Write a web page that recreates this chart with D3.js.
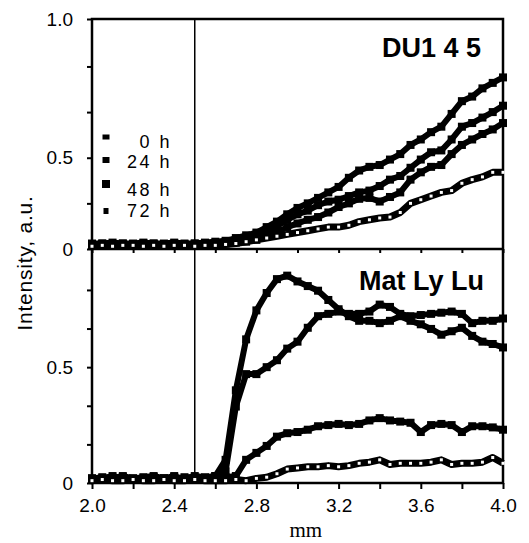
<!DOCTYPE html>
<html>
<head>
<meta charset="utf-8">
<script src="https://cdn.jsdelivr.net/npm/d3@7"></script>
<style>
  body { margin: 0; background: #fff; }
  text { font-family: "Liberation Sans", Arial, sans-serif; fill: #000; }
</style>
</head>
<body>
<div id="graphic"></div>
<script>
// distance along the sample, mm
const mm = [2.00, 2.05, 2.10, 2.15, 2.20, 2.25, 2.30, 2.35, 2.40, 2.45,
            2.50, 2.55, 2.60, 2.65, 2.70, 2.75, 2.80, 2.85, 2.90, 2.95,
            3.00, 3.05, 3.10, 3.15, 3.20, 3.25, 3.30, 3.35, 3.40, 3.45,
            3.50, 3.55, 3.60, 3.65, 3.70, 3.75, 3.80, 3.85, 3.90, 3.95, 4.00];

const timeLabels = ["0 h", "24 h", "48 h", "72 h"];

// DU145 panel (top)
const du145_0h  = [0.02,0.025,0.02,0.02,0.025,0.02,0.025,0.02,0.02,0.025,0.02,0.025,0.025,0.03,0.035,0.04,0.05,0.07,0.09,0.12,0.14,0.16,0.175,0.20,0.23,0.25,0.275,0.28,0.26,0.285,0.31,0.38,0.42,0.45,0.46,0.52,0.57,0.60,0.63,0.655,0.69];
const du145_24h = [0.025,0.03,0.025,0.03,0.025,0.03,0.03,0.025,0.03,0.025,0.03,0.03,0.03,0.035,0.04,0.05,0.07,0.09,0.125,0.16,0.19,0.21,0.24,0.26,0.27,0.29,0.31,0.32,0.345,0.38,0.40,0.445,0.49,0.53,0.54,0.60,0.67,0.69,0.72,0.75,0.785];
const du145_48h = [0.03,0.03,0.035,0.03,0.03,0.035,0.03,0.03,0.035,0.03,0.03,0.035,0.04,0.045,0.06,0.075,0.09,0.12,0.15,0.19,0.225,0.25,0.28,0.31,0.34,0.39,0.43,0.45,0.46,0.49,0.52,0.57,0.60,0.64,0.67,0.74,0.81,0.835,0.88,0.91,0.94];
const du145_72h = [0.015,0.02,0.015,0.02,0.02,0.015,0.02,0.015,0.02,0.02,0.015,0.02,0.02,0.025,0.03,0.04,0.05,0.06,0.07,0.08,0.09,0.10,0.11,0.12,0.12,0.13,0.15,0.16,0.17,0.175,0.20,0.25,0.27,0.29,0.31,0.32,0.36,0.38,0.395,0.42,0.42];

// Mat Ly Lu panel (bottom)
const mat_0h  = [0.02,0.015,0.02,0.025,0.02,0.015,0.02,0.02,0.015,0.025,0.02,0.02,0.02,0.025,0.03,0.10,0.13,0.16,0.20,0.215,0.22,0.23,0.245,0.25,0.255,0.25,0.255,0.27,0.28,0.27,0.265,0.26,0.22,0.25,0.255,0.25,0.22,0.245,0.245,0.24,0.23];
const mat_24h = [0.015,0.02,0.03,0.02,0.015,0.02,0.025,0.02,0.03,0.015,0.02,0.02,0.03,0.05,0.33,0.47,0.47,0.50,0.53,0.58,0.61,0.67,0.72,0.73,0.74,0.73,0.73,0.74,0.77,0.76,0.73,0.72,0.725,0.73,0.735,0.74,0.73,0.69,0.70,0.70,0.71];
const mat_48h = [0.02,0.025,0.02,0.03,0.02,0.025,0.03,0.02,0.025,0.02,0.03,0.025,0.03,0.10,0.40,0.62,0.745,0.82,0.88,0.895,0.87,0.85,0.83,0.79,0.75,0.72,0.70,0.70,0.69,0.70,0.72,0.70,0.685,0.665,0.64,0.655,0.67,0.635,0.61,0.60,0.585];
const mat_72h = [0.01,0.015,0.01,0.01,0.015,0.01,0.01,0.015,0.01,0.01,0.015,0.01,0.01,0.01,0.015,0.01,0.02,0.025,0.04,0.06,0.065,0.07,0.07,0.075,0.07,0.075,0.085,0.09,0.10,0.08,0.085,0.085,0.085,0.09,0.10,0.08,0.085,0.085,0.09,0.11,0.085];

const width = 529, height = 543;
const plotLeft = 92, plotRight = 503, plotTop = 19, plotMid = 249, plotBottom = 483;

const svg = d3.select("#graphic")
              .append("svg")
              .attr("width", width)
              .attr("height", height);

const x = d3.scaleLinear().domain([2, 4]).range([plotLeft, plotRight]);
// the top panel is labelled 1.0 at its upper edge, although its ticks run on 0.25 steps
const yTop = d3.scaleLinear().domain([0, 1.26]).range([plotMid, plotTop]);
const yBot = d3.scaleLinear().domain([0, 1.01]).range([plotBottom, plotMid]);

// left axes
svg.append("g")
   .attr("transform", "translate(" + plotLeft + ",0)")
   .call(d3.axisLeft(yTop)
           .tickValues([0, 0.25, 0.5, 0.75, 1.0, 1.26])
           .tickSize(5)
           .tickPadding(14)
           .tickFormat(d => d === 0 ? "0" : d === 0.5 ? "0.5" : d === 1.26 ? "1.0" : ""));

svg.append("g")
   .attr("transform", "translate(" + plotLeft + ",0)")
   .call(d3.axisLeft(yBot)
           .tickValues([0, 1/6, 2/6, 0.5, 4/6, 5/6])
           .tickSize(5)
           .tickPadding(14)
           .tickFormat(d => d === 0 ? "0" : d === 0.5 ? "0.5" : ""));

// bottom axis
const xTicks = [2.0, 2.2, 2.4, 2.6, 2.8, 3.0, 3.2, 3.4, 3.6, 3.8, 4.0];
svg.append("g")
   .attr("transform", "translate(0," + plotBottom + ")")
   .call(d3.axisBottom(x)
           .tickValues(xTicks)
           .tickSize(6)
           .tickPadding(10)
           .tickFormat(d => Math.round(d * 10) % 4 === 0 ? d3.format(".1f")(d) : ""));

// small ticks under the divider
svg.append("g")
   .attr("transform", "translate(0," + plotMid + ")")
   .call(d3.axisBottom(x).tickValues(xTicks).tickSize(4).tickFormat(""));

svg.selectAll(".domain").remove();
svg.selectAll(".tick line").attr("stroke", "#000").attr("stroke-width", 2);
svg.selectAll(".tick text").style("font-size", "19px").attr("fill", "#000");

// frame, divider and the 2.5 mm line
svg.append("rect")
   .attr("x", plotLeft).attr("y", plotTop)
   .attr("width", plotRight - plotLeft).attr("height", plotBottom - plotTop)
   .attr("fill", "none").attr("stroke", "#000").attr("stroke-width", 2.5);
svg.append("line")
   .attr("x1", plotLeft).attr("x2", plotRight)
   .attr("y1", plotMid).attr("y2", plotMid)
   .attr("stroke", "#000").attr("stroke-width", 2.5);
svg.append("line")
   .attr("x1", x(2.5)).attr("x2", x(2.5))
   .attr("y1", plotTop).attr("y2", plotBottom)
   .attr("stroke", "#000").attr("stroke-width", 1.5);

// draw one series: thick line with square markers
function drawSeries(values, yScale, open) {
    const pts = values.map((v, i) => ({x: mm[i], y: v}));
    svg.append("path")
       .datum(pts)
       .attr("fill", "none")
       .attr("stroke", "#000")
       .attr("stroke-width", open ? 7 : 6)
       .attr("stroke-linejoin", "round")
       .attr("d", d3.line()
                    .x(d => x(d.x))
                    .y(d => yScale(d.y)));
    const s = open ? 3 : 8;
    svg.append("g")
       .selectAll("rect")
       .data(pts)
       .join("rect")
       .attr("x", d => x(d.x) - s / 2)
       .attr("y", d => yScale(d.y) - s / 2)
       .attr("width", s)
       .attr("height", s)
       .attr("fill", open ? "#fff" : "#000");
}

drawSeries(du145_0h, yTop, false);
drawSeries(du145_24h, yTop, false);
drawSeries(du145_48h, yTop, false);
drawSeries(du145_72h, yTop, true);

drawSeries(mat_0h, yBot, false);
drawSeries(mat_24h, yBot, false);
drawSeries(mat_48h, yBot, false);
drawSeries(mat_72h, yBot, true);

// legend
const legendY = [148, 168, 196, 217];
const legendMarkY = [137, 160, 184, 211];
const legendMarkSize = [[7, 5], [7, 6], [8, 8], [5, 6]];
timeLabels.forEach((t, i) => {
    svg.append("rect")
       .attr("x", 106 - legendMarkSize[i][0] / 2)
       .attr("y", legendMarkY[i] - legendMarkSize[i][1] / 2)
       .attr("width", legendMarkSize[i][0])
       .attr("height", legendMarkSize[i][1])
       .attr("fill", "#000");
    svg.append("text")
       .attr("x", 172)
       .attr("y", legendY[i])
       .attr("text-anchor", "end")
       .style("font-size", "18px")
       .style("letter-spacing", "2.5px")
       .text(t);
});

// panel titles
svg.append("text")
   .attr("x", 481).attr("y", 57)
   .attr("text-anchor", "end")
   .style("font-size", "27px").style("font-weight", "bold")
   .text("DU1 4 5");
svg.append("text")
   .attr("x", 484).attr("y", 290)
   .attr("text-anchor", "end")
   .style("font-size", "27px").style("font-weight", "bold")
   .text("Mat Ly Lu");

// axis titles
svg.append("text")
   .attr("transform", "translate(32,263) rotate(-90)")
   .attr("text-anchor", "middle")
   .style("font-size", "21px")
   .style("letter-spacing", "0.8px")
   .text("Intensity, a.u.");
svg.append("text")
   .attr("x", x(3.04)).attr("y", 537)
   .attr("text-anchor", "middle")
   .style("font-family", "'Liberation Serif', 'Times New Roman', serif")
   .style("font-size", "21px")
   .text("mm");
</script>
</body>
</html>
